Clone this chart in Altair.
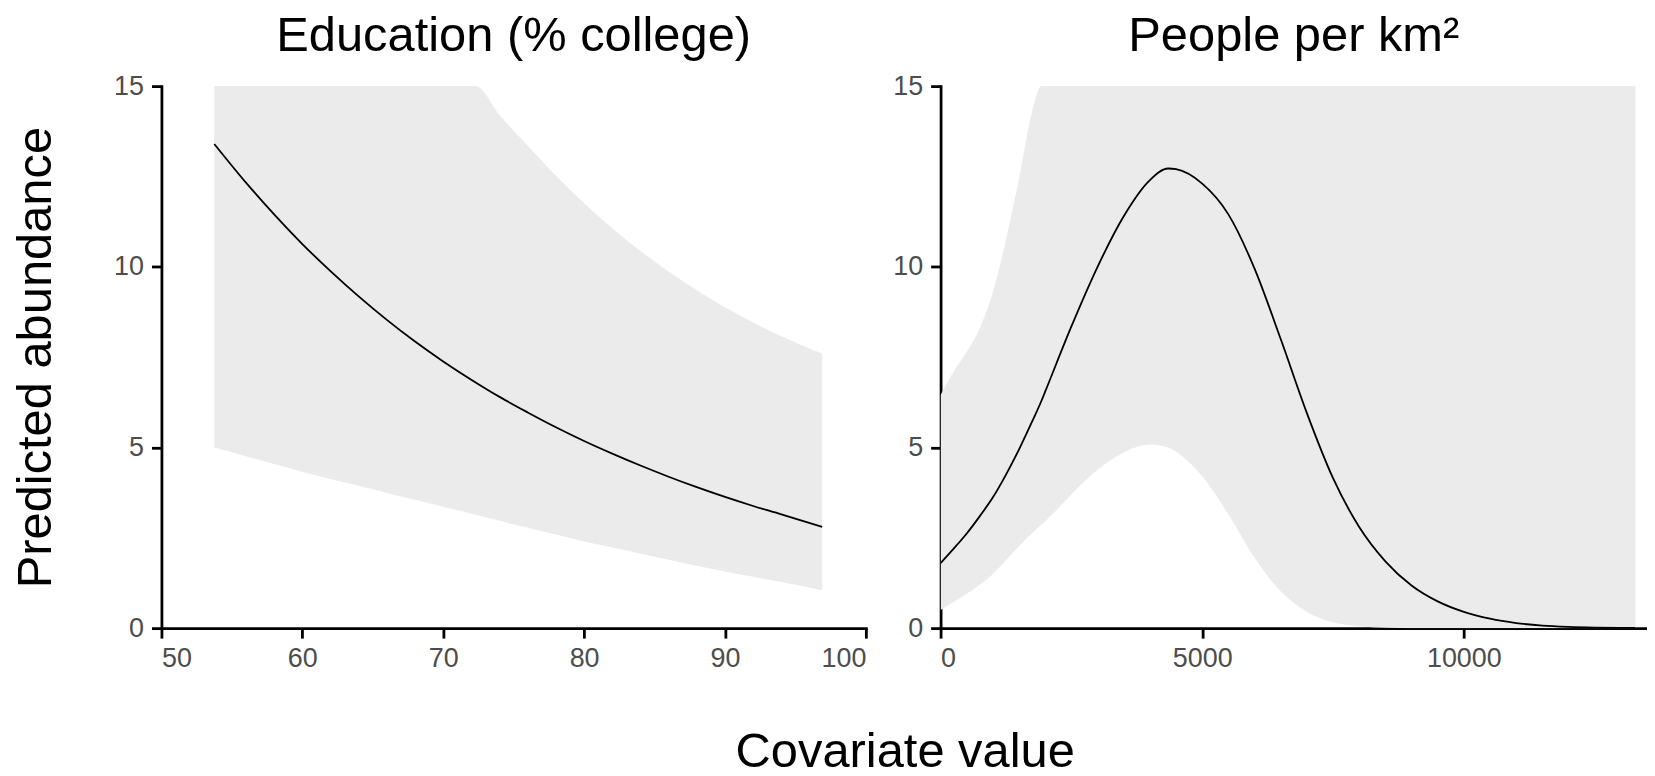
import altair as alt
import pandas as pd

# ---- Left panel: Education (% college) ----
edu_x = [53.75, 56, 58, 60, 62, 64, 66, 68, 70, 72.3, 74, 76, 78, 80, 82, 84, 86, 88, 90, 92, 94, 96.9]
edu_fit = [13.4, 12.33, 11.45, 10.63, 9.88, 9.18, 8.53, 7.93, 7.38, 6.8, 6.4, 5.97, 5.56, 5.18, 4.83, 4.5, 4.19, 3.9, 3.63, 3.38, 3.15, 2.8]
edu_lo = [5.0, 4.76, 4.54, 4.33, 4.13, 3.94, 3.74, 3.55, 3.36, 3.14, 2.97, 2.78, 2.59, 2.40, 2.23, 2.06, 1.89, 1.73, 1.57, 1.42, 1.28, 1.05]
edu_hi = [15, 15, 15, 15, 15, 15, 15, 15, 15, 15.0, 14.2, 13.35, 12.52, 11.76, 11.07, 10.44, 9.87, 9.35, 8.88, 8.46, 8.08, 7.6]

# ---- Right panel: People per km2 ----
pop_x = [0, 250, 500, 750, 1000, 1250, 1500, 1750, 1930, 2000, 2500, 3000, 3500, 4000, 4350, 4500,
         5000, 5500, 6000, 6500, 7000, 7500, 8000, 8500, 9000, 9500, 10000, 10500, 11000, 11500,
         12000, 12500, 13000, 13280]
pop_fit = [1.8, 2.2, 2.62, 3.1, 3.62, 4.25, 4.95, 5.72, 6.3, 6.55, 8.35, 10.0, 11.4, 12.4, 12.72, 12.7,
           12.3, 11.45, 9.95, 8.0, 5.95, 4.15, 2.8, 1.85, 1.18, 0.74, 0.45, 0.26, 0.14, 0.07,
           0.035, 0.017, 0.008, 0.005]
pop_lo = [0.5, 0.72, 0.95, 1.2, 1.5, 1.88, 2.27, 2.63, 2.87, 2.96, 3.7, 4.38, 4.86, 5.08, 5.0, 4.88,
          4.2, 3.15, 1.95, 1.02, 0.45, 0.16, 0.05, 0.01, 0, 0, 0, 0, 0, 0,
          0, 0, 0, 0]
pop_hi = [6.45, 7.1, 7.65, 8.3, 9.3, 10.75, 12.45, 14.3, 15.0, 15, 15, 15, 15, 15, 15, 15,
          15, 15, 15, 15, 15, 15, 15, 15, 15, 15, 15, 15, 15, 15,
          15, 15, 15, 15]

y_ticks = [0, 5, 10, 15]
edu_ticks = [50, 60, 70, 80, 90, 100]
pop_ticks = [0, 5000, 10000]

edu_df = pd.DataFrame({"x": edu_x, "fit": edu_fit, "lo": edu_lo, "hi": edu_hi})
pop_df = pd.DataFrame({"x": pop_x, "fit": pop_fit, "lo": pop_lo, "hi": pop_hi})

FONT = "Liberation Sans"
BAND = "#EBEBEB"


def panel(df, title, xdomain, xticks, ytitle, width):
    xenc = alt.X("x:Q", scale=alt.Scale(domain=xdomain, nice=False, zero=False),
                 axis=alt.Axis(values=xticks, title="", format="d"))
    yaxis = alt.Axis(values=y_ticks, title=ytitle, format="d")
    band = alt.Chart(df).mark_area(color=BAND, opacity=1, clip=True, interpolate="monotone").encode(
        x=xenc,
        y=alt.Y("lo:Q", scale=alt.Scale(domain=[0, 15], nice=False), axis=yaxis),
        y2="hi:Q",
    )
    line = alt.Chart(df).mark_line(color="black", strokeWidth=1.8, clip=True, interpolate="monotone").encode(
        x=xenc,
        y=alt.Y("fit:Q", scale=alt.Scale(domain=[0, 15], nice=False)),
    )
    return alt.layer(band, line).properties(
        width=width,
        height=544,
        title=alt.TitleParams(title, fontSize=49, font=FONT, fontWeight="normal", color="black",
                              anchor="middle", frame="group", baseline="top", offset=11),
    )


left = panel(edu_df, "Education (% college)", [50, 100], edu_ticks, "Predicted abundance", 707)
right = panel(pop_df, "People per km²", [0, 13500], pop_ticks, "", 709)

chart = alt.hconcat(left, right, spacing=75, bounds="flush").properties(
    title=alt.TitleParams("Covariate value", orient="bottom", anchor="middle", fontSize=49,
                          font=FONT, fontWeight="normal", color="black", baseline="top",
                          offset=56, dx=76),
    padding={"left": 3, "top": 3, "right": 0, "bottom": 0},
).configure_view(stroke=None).configure_axis(
    grid=False,
    domainColor="black", domainWidth=2.8, domainCap="square",
    tickColor="black", tickWidth=2.8, tickSize=10,
    labelFont=FONT, labelFontSize=27, labelColor="#4D4D4D", labelPadding=8,
    titleFont=FONT, titleFontSize=49, titleFontWeight="normal", titleColor="black", titlePadding=53,
)

chart.save("out.html", embed_options={"renderer": "svg", "actions": False})
